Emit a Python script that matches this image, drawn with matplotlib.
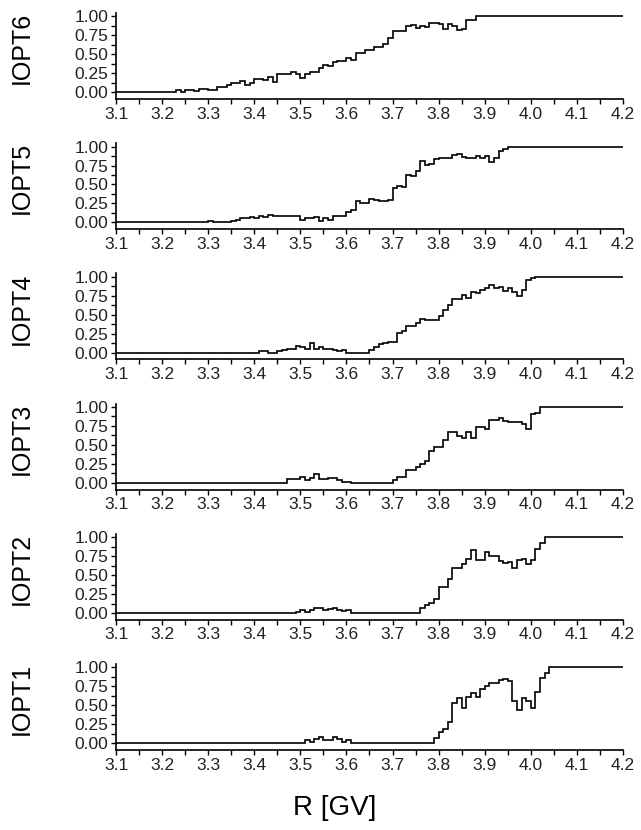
import numpy as np
import matplotlib.pyplot as plt
from matplotlib.ticker import MultipleLocator, FormatStrFormatter

plt.rcParams['font.family'] = ['Liberation Sans', 'DejaVu Sans']

# bins of 0.01 GV from 3.10 to 4.20 (110 bins)
edges = np.round(np.linspace(3.10, 4.20, 111), 2)

# zero before, one after the listed values
iopt6_first = 13
iopt6 = [0.03, 0.0, 0.03, 0.03, 0.01, 0.04, 0.04, 0.03, 0.03, 0.07,
         0.07, 0.10, 0.115, 0.115, 0.15, 0.10, 0.115, 0.18, 0.18, 0.165,
         0.20, 0.13, 0.235, 0.245, 0.235, 0.27, 0.235, 0.19, 0.235, 0.27,
         0.27, 0.32, 0.355, 0.34, 0.40, 0.41, 0.41, 0.45, 0.43, 0.52,
         0.52, 0.555, 0.555, 0.60, 0.59, 0.63, 0.71, 0.81, 0.81, 0.81,
         0.875, 0.885, 0.845, 0.875, 0.865, 0.91, 0.91, 0.90, 0.84, 0.895,
         0.875, 0.82, 0.84, 0.95, 0.95]

iopt5_first = 20
iopt5 = [0.018, 0.0, 0.0, 0.0, 0.0, 0.018, 0.036, 0.053, 0.053, 0.067,
         0.053, 0.084, 0.076, 0.098, 0.089, 0.089, 0.08, 0.08, 0.089, 0.089,
         0.036, 0.062, 0.053, 0.067, 0.018, 0.053, 0.036, 0.089, 0.089, 0.089,
         0.133, 0.164, 0.276, 0.262, 0.262, 0.311, 0.289, 0.276, 0.276, 0.289,
         0.453, 0.484, 0.467, 0.631, 0.618, 0.676, 0.809, 0.751, 0.773, 0.831,
         0.844, 0.844, 0.844, 0.889, 0.907, 0.862, 0.853, 0.853, 0.876, 0.844,
         0.876, 0.80, 0.853, 0.942, 0.964]

iopt4_first = 31
iopt4 = [0.018, 0.018, 0.0, 0.0, 0.018, 0.036, 0.053, 0.053, 0.089, 0.071,
         0.053, 0.124, 0.053, 0.071, 0.053, 0.053, 0.036, 0.018, 0.036, 0.0,
         0.0, 0.0, 0.0, 0.0, 0.036, 0.071, 0.111, 0.133, 0.142, 0.142,
         0.253, 0.284, 0.356, 0.356, 0.387, 0.444, 0.431, 0.431, 0.431, 0.489,
         0.564, 0.631, 0.711, 0.711, 0.764, 0.72, 0.80, 0.787, 0.831, 0.853,
         0.898, 0.853, 0.862, 0.818, 0.853, 0.80, 0.751, 0.831, 0.964, 0.987]

iopt3_first = 37
iopt3 = [0.049, 0.049, 0.049, 0.08, 0.035, 0.058, 0.115, 0.049, 0.049, 0.058,
         0.058, 0.035, 0.013, 0.013, 0.0, 0.0, 0.0, 0.0, 0.0, 0.0,
         0.0, 0.0, 0.0, 0.035, 0.071, 0.071, 0.168, 0.168, 0.212, 0.252,
         0.288, 0.42, 0.478, 0.478, 0.566, 0.668, 0.668, 0.611, 0.588, 0.664,
         0.588, 0.735, 0.735, 0.708, 0.832, 0.832, 0.854, 0.818, 0.80, 0.80,
         0.80, 0.77, 0.708, 0.907, 0.92]

iopt2_first = 39
iopt2 = [0.018, 0.036, 0.018, 0.036, 0.067, 0.067, 0.036, 0.049, 0.067, 0.044,
         0.022, 0.036, 0.0, 0.0, 0.0, 0.0, 0.0, 0.0, 0.0, 0.0,
         0.0, 0.0, 0.0, 0.0, 0.0, 0.0, 0.0, 0.071, 0.102, 0.138,
         0.182, 0.338, 0.338, 0.444, 0.591, 0.591, 0.644, 0.711, 0.836, 0.693,
         0.702, 0.80, 0.747, 0.747, 0.68, 0.658, 0.667, 0.591, 0.693, 0.711,
         0.644, 0.693, 0.849, 0.924]

iopt1_first = 41
iopt1 = [0.036, 0.018, 0.058, 0.08, 0.036, 0.036, 0.08, 0.058, 0.013, 0.036,
         0.0, 0.0, 0.0, 0.0, 0.0, 0.0, 0.0, 0.0, 0.0, 0.0,
         0.0, 0.0, 0.0, 0.0, 0.0, 0.0, 0.0, 0.0, 0.071, 0.147,
         0.191, 0.28, 0.533, 0.591, 0.467, 0.613, 0.667, 0.613, 0.711, 0.76,
         0.80, 0.79, 0.83, 0.85, 0.82, 0.556, 0.436, 0.591, 0.56, 0.458,
         0.68, 0.858, 0.924]

labels = ["IOPT6", "IOPT5", "IOPT4", "IOPT3", "IOPT2", "IOPT1"]
firsts = [iopt6_first, iopt5_first, iopt4_first, iopt3_first, iopt2_first, iopt1_first]
curves = [iopt6, iopt5, iopt4, iopt3, iopt2, iopt1]


def full_series(first, vals):
    n_after = len(edges) - 1 - first - len(vals)
    return np.concatenate([np.zeros(first), vals, np.ones(n_after)])


W, H = 641, 830
fig = plt.figure(figsize=(W / 100, H / 100), dpi=100)

for i in range(6):
    bottom = 99 + 130.2 * i
    ax = fig.add_axes([116 / W, 1 - bottom / H, 507 / W, 86 / H])
    y = full_series(firsts[i], curves[i])
    ax.stairs(y, edges, baseline=None, color='black', lw=1.2)

    ax.set_xlim(3.1, 4.2)
    ax.set_ylim(-0.09, 1.045)
    ax.xaxis.set_major_locator(MultipleLocator(0.1))
    ax.xaxis.set_minor_locator(MultipleLocator(0.05))
    ax.yaxis.set_major_locator(MultipleLocator(0.25))
    ax.yaxis.set_minor_locator(MultipleLocator(0.125))
    ax.xaxis.set_major_formatter(FormatStrFormatter('%.1f'))
    ax.yaxis.set_major_formatter(FormatStrFormatter('%.2f'))
    ax.spines['top'].set_visible(False)
    ax.spines['right'].set_visible(False)
    ax.spines['left'].set_linewidth(1.2)
    ax.spines['bottom'].set_linewidth(1.2)
    ax.tick_params(which='both', direction='out', length=3.5, width=1,
                   labelsize=12.5, pad=2, labelcolor='#222222')

    # panel name on the left
    yc = 1 - (bottom - 43 - 8) / H
    fig.text(22 / W, yc, labels[i], rotation=90, ha='center', va='center',
             fontsize=18)

fig.text(335 / W, 1 - 808 / H, 'R [GV]', ha='center', va='center', fontsize=20)

fig.savefig('out.png', dpi=100)
